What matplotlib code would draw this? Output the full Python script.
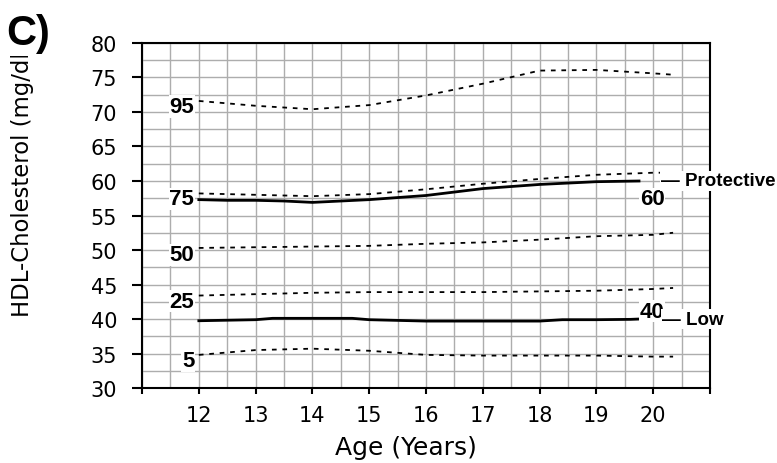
import numpy as np
import matplotlib.pyplot as plt
from matplotlib.patches import Rectangle

# percentile curves (mg/dl) by age
ages = [12, 13, 14, 15, 16, 17, 18, 19, 20, 20.35]
p95 = [71.6, 70.9, 70.4, 71.0, 72.4, 74.1, 76.0, 76.1, 75.6, 75.4]
p75 = [58.2, 58.0, 57.8, 58.1, 58.8, 59.6, 60.3, 60.9, 61.2, 61.2]
p50 = [50.3, 50.4, 50.5, 50.6, 50.9, 51.1, 51.5, 52.0, 52.2, 52.5]
p25 = [43.4, 43.6, 43.8, 43.9, 43.9, 43.9, 44.0, 44.1, 44.35, 44.5]
p5 = [34.8, 35.5, 35.7, 35.4, 34.8, 34.7, 34.7, 34.7, 34.55, 34.55]
pct_names = ['95', '75', '50', '25', '5']
pct_label_y = [70.8, 57.4, 49.3, 42.6, 34.0]

# cut-point lines
cut_ages = [12, 12.5, 13, 13.5, 14, 15, 16, 17, 18, 19, 19.75]
protective = [57.3, 57.2, 57.2, 57.1, 56.9, 57.3, 57.9, 58.9, 59.5, 59.9, 60.0]
low_ages = [12, 13, 13.3, 14, 14.7, 15, 16, 17, 18, 18.4, 19, 19.6, 19.75]
low = [39.75, 39.9, 40.1, 40.1, 40.1, 39.9, 39.7, 39.7, 39.7, 39.9, 39.9, 39.95, 40.0]

xticks = list(range(11, 22))
xlabels = ['' if t in (11, 21) else str(t) for t in xticks]

fig = plt.figure(figsize=(7.77, 4.64), dpi=100)
ax = fig.add_axes([0.1828, 0.1616, 0.731, 0.7436])

ax.set_xlim(11, 21)
ax.set_ylim(30, 80)
ax.set_xticks(np.arange(11, 21.01, 0.5), minor=True)
ax.set_yticks(np.arange(30, 80.01, 2.5), minor=True)
ax.grid(True, which='both', color='#adadad', lw=1.0, zorder=0)
ax.tick_params(which='minor', length=0)
ax.set_xticks(xticks)
ax.set_xticklabels(xlabels)
ax.set_yticks(range(30, 81, 5))
ax.tick_params(axis='x', which='major', length=4, width=1.5, pad=8, labelsize=15)
ax.tick_params(axis='y', which='major', length=7, width=1.5, pad=11, labelsize=15)
for s in ax.spines.values():
    s.set_linewidth(1.5)
    s.set_zorder(3)

dash = (0, (2.6, 3.2))
for vals in [p95, p75, p50, p25, p5]:
    ax.plot(ages, vals, color='black', lw=1.3, linestyle=dash, zorder=4)

ax.plot(cut_ages, protective, color='black', lw=2.0, zorder=4)
ax.plot(low_ages, low, color='black', lw=2.0, zorder=4)

for name, yv in zip(pct_names, pct_label_y):
    ax.text(11.92, yv, name, ha='right', va='center', fontsize=16, fontweight='bold',
            family='Liberation Sans', zorder=5,
            bbox=dict(facecolor='white', edgecolor='none', pad=0.5))

ax.text(19.98, 57.4, '60', ha='center', va='center', fontsize=16, fontweight='bold',
        family='Liberation Sans', zorder=5,
        bbox=dict(facecolor='white', edgecolor='none', pad=0.5))
ax.text(19.98, 41.1, '40', ha='center', va='center', fontsize=16, fontweight='bold',
        family='Liberation Sans', zorder=5,
        bbox=dict(facecolor='white', edgecolor='none', pad=0.3))
ax.text(20.14, 60.0, '\u2014 Protective', ha='left', va='center', fontsize=13.5,
        fontweight='bold', family='Liberation Sans', zorder=6, clip_on=False,
        bbox=dict(facecolor='white', edgecolor='none', pad=1))
ax.text(20.16, 40.0, '\u2014 Low', ha='left', va='center', fontsize=13.5,
        fontweight='bold', family='Liberation Sans', zorder=6, clip_on=False,
        bbox=dict(facecolor='white', edgecolor='none', pad=1))

ax.set_xlabel('Age (Years)', fontsize=18, labelpad=8)
ax.xaxis.set_label_coords(0.465, -0.135)

fig.text(0.029, 0.612, 'HDL-Cholesterol (mg/dl)', rotation=90, ha='center',
         va='center', fontsize=16.4, zorder=1)
# the top of the y label is hidden behind the panel letter area
fig.patches.append(Rectangle((0, 1 - 57 / 464), 0.09, 57 / 464, transform=fig.transFigure,
                             facecolor='white', edgecolor='none', zorder=2))
fig.text(0.008, 0.97, 'C)', fontsize=30, fontweight='bold', family='Liberation Sans',
         ha='left', va='top', zorder=3)

fig.savefig('out.png', dpi=100)
